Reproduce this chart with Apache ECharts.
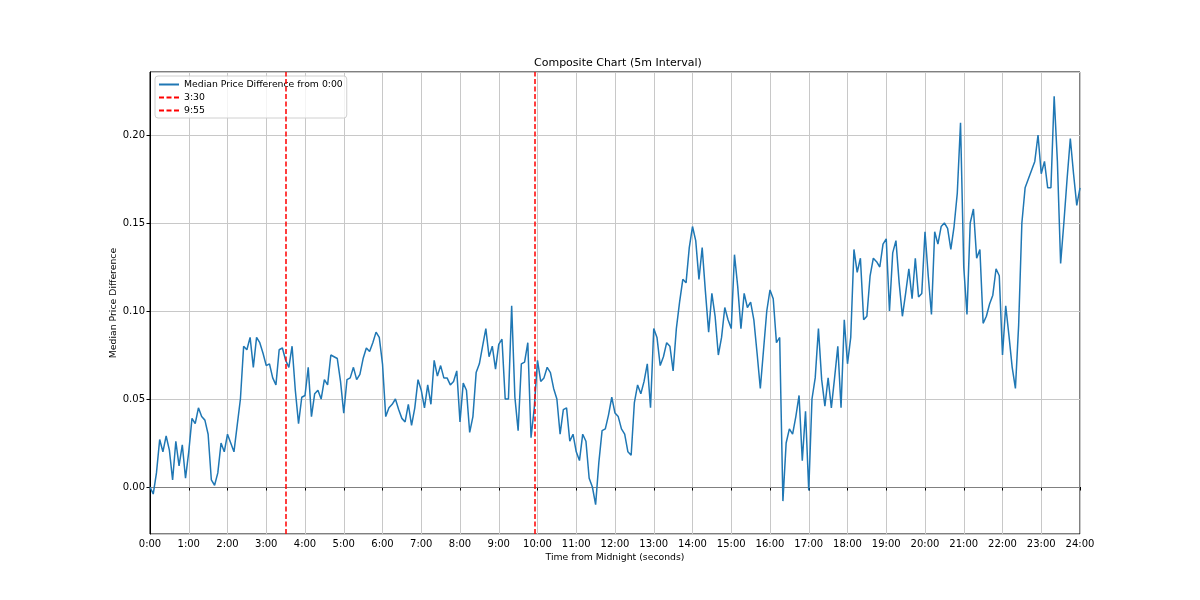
<!DOCTYPE html>
<html>
<head>
<meta charset="utf-8">
<script src="https://cdn.jsdelivr.net/npm/echarts@6/dist/echarts.min.js"></script>
<style>
  html, body { margin: 0; padding: 0; background: #fff; }
  #chart { width: 1200px; height: 600px; }
</style>
</head>
<body>
<div id="chart"></div>
<script>
// minutes from midnight, one value every 5 minutes (one row per hour)
var stepMinutes = 5;
var medianDiff = [
  0.000, -0.004, 0.008, 0.027, 0.020, 0.029, 0.021, 0.004, 0.026, 0.012, 0.024, 0.005,
  0.020, 0.039, 0.036, 0.045, 0.040, 0.038, 0.030, 0.004, 0.001, 0.008, 0.025, 0.020,
  0.030, 0.025, 0.020, 0.035, 0.050, 0.080, 0.078, 0.085, 0.068, 0.085, 0.082, 0.076,
  0.069, 0.070, 0.062, 0.058, 0.078, 0.079, 0.072, 0.068, 0.080, 0.055, 0.036, 0.051,
  0.052, 0.068, 0.040, 0.053, 0.055, 0.050, 0.061, 0.058, 0.075, 0.074, 0.073, 0.060,
  0.042, 0.061, 0.062, 0.068, 0.061, 0.064, 0.073, 0.079, 0.077, 0.082, 0.088, 0.085,
  0.070, 0.040, 0.045, 0.047, 0.050, 0.044, 0.039, 0.037, 0.047, 0.035, 0.045, 0.061,
  0.055, 0.045, 0.058, 0.047, 0.072, 0.063, 0.069, 0.062, 0.062, 0.058, 0.060, 0.066,
  0.037, 0.059, 0.055, 0.031, 0.040, 0.065, 0.070, 0.080, 0.090, 0.074, 0.080, 0.067,
  0.081, 0.084, 0.050, 0.050, 0.103, 0.051, 0.032, 0.070, 0.071, 0.082, 0.028, 0.045,
  0.072, 0.060, 0.062, 0.068, 0.065, 0.056, 0.050, 0.030, 0.044, 0.045, 0.026, 0.030,
  0.020, 0.015, 0.030, 0.026, 0.005, 0.000, -0.010, 0.014, 0.032, 0.033, 0.041, 0.051,
  0.042, 0.040, 0.033, 0.030, 0.020, 0.018, 0.048, 0.058, 0.053, 0.060, 0.070, 0.045,
  0.090, 0.085, 0.069, 0.074, 0.082, 0.080, 0.066, 0.090, 0.105, 0.118, 0.116, 0.136,
  0.148, 0.140, 0.118, 0.136, 0.111, 0.088, 0.110, 0.097, 0.075, 0.085, 0.102, 0.095,
  0.090, 0.132, 0.114, 0.090, 0.110, 0.102, 0.105, 0.095, 0.076, 0.056, 0.078, 0.100,
  0.112, 0.107, 0.082, 0.085, -0.008, 0.025, 0.033, 0.030, 0.040, 0.052, 0.015, 0.043,
  -0.002, 0.050, 0.062, 0.090, 0.061, 0.046, 0.062, 0.045, 0.062, 0.080, 0.045, 0.095,
  0.070, 0.085, 0.135, 0.122, 0.130, 0.095, 0.097, 0.120, 0.130, 0.128, 0.125, 0.138,
  0.141, 0.100, 0.133, 0.140, 0.116, 0.097, 0.110, 0.124, 0.107, 0.130, 0.108, 0.110,
  0.145, 0.120, 0.098, 0.145, 0.138, 0.148, 0.150, 0.147, 0.135, 0.148, 0.167, 0.207,
  0.125, 0.098, 0.150, 0.158, 0.130, 0.135, 0.093, 0.097, 0.104, 0.109, 0.124, 0.120,
  0.075, 0.103, 0.086, 0.068, 0.056, 0.092, 0.150, 0.170, 0.175, 0.180, 0.185, 0.200,
  0.178, 0.185, 0.170, 0.170, 0.222, 0.185, 0.127, 0.150, 0.175, 0.198, 0.178, 0.160,
  0.170
];
// vertical marker times (minutes from midnight)
var markerNames = ['3:30', '9:55'];
var markerMinutes = [210, 595];

var points = medianDiff.map(function (v, i) { return [i * stepMinutes, v]; });

var font = 'DejaVu Sans';
var chart = echarts.init(document.getElementById('chart'));

var series = [{
  name: 'Median Price Difference from 0:00',
  type: 'line',
  data: points,
  showSymbol: false,
  symbol: 'none',
  color: '#1f77b4',
  lineStyle: { color: '#1f77b4', width: 1.5 },
  z: 3,
  markLine: {
    silent: true,
    symbol: 'none',
    label: { show: false },
    lineStyle: { color: '#808080', width: 1, type: 'solid' },
    data: [{ yAxis: 0 }],
    z: 2
  }
}];
markerNames.forEach(function (name, i) {
  series.push({
    name: name,
    type: 'line',
    data: [],
    symbol: 'none',
    color: '#ff0000',
    lineStyle: { color: '#ff0000', width: 1.5, type: [5, 2.5] },
    markLine: {
      silent: true,
      symbol: 'none',
      label: { show: false },
      lineStyle: { color: '#ff0000', width: 1.5, type: [5, 2.5] },
      data: [{ xAxis: markerMinutes[i] }]
    }
  });
});

chart.setOption({
  animation: false,
  backgroundColor: '#fff',
  textStyle: { fontFamily: font },
  title: {
    text: 'Composite Chart (5m Interval)',
    left: 529,
    top: 53,
    textStyle: { fontFamily: font, fontSize: 11, fontWeight: 'normal', color: '#000' }
  },
  legend: {
    orient: 'vertical',
    left: 155,
    top: 76,
    padding: [4, 4, 3, 3],
    itemGap: 4,
    itemWidth: 20,
    itemHeight: 10,
    itemStyle: { opacity: 0 },
    backgroundColor: 'rgba(255,255,255,0.8)',
    borderColor: '#d0d0d0',
    borderWidth: 1,
    borderRadius: 3,
    textStyle: { fontFamily: font, fontSize: 9.3, color: '#000' },
    data: ['Median Price Difference from 0:00'].concat(markerNames)
  },
  grid: {
    left: 150, right: 120, top: 72, bottom: 66,
    show: true, borderColor: '#000', borderWidth: 1
  },
  xAxis: {
    type: 'value',
    min: 0,
    max: 1440,
    interval: 60,
    name: 'Time from Midnight (seconds)',
    nameLocation: 'middle',
    nameGap: 19,
    nameMoveOverlap: false,
    nameTextStyle: { fontFamily: font, fontSize: 9.3, color: '#000' },
    axisLine: { show: true, lineStyle: { color: '#000', width: 1 } },
    axisTick: { show: true, length: 3.5, lineStyle: { color: '#000' } },
    axisLabel: {
      fontFamily: font, fontSize: 10, color: '#000', margin: 5,
      formatter: function (v) { return (v / 60) + ':00'; }
    },
    splitLine: { show: true, lineStyle: { color: '#c8c8c8', width: 1 } }
  },
  yAxis: {
    type: 'value',
    min: -0.0267,
    max: 0.2358,
    splitNumber: 5,
    name: 'Median Price Difference',
    nameLocation: 'middle',
    nameGap: 32,
    nameMoveOverlap: false,
    nameTextStyle: { fontFamily: font, fontSize: 9.3, color: '#000' },
    axisLine: { show: true, lineStyle: { color: '#000', width: 1 } },
    axisTick: { show: true, length: 3.5, lineStyle: { color: '#000' } },
    axisLabel: {
      fontFamily: font, fontSize: 10, color: '#000', margin: 5,
      showMinLabel: false, showMaxLabel: false,
      formatter: function (v) { return v.toFixed(2); }
    },
    splitLine: { show: true, lineStyle: { color: '#c8c8c8', width: 1 } }
  },
  series: series
});
</script>
</body>
</html>
